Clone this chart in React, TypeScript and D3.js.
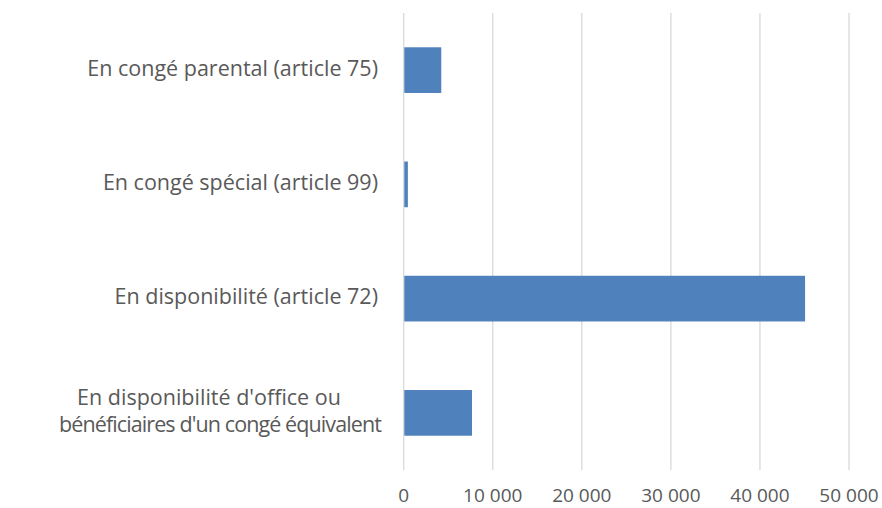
import * as d3 from 'd3';
import { useEffect, useRef } from 'react';

const categories = [
  'En congé parental (article 75)',
  'En congé spécial (article 99)',
  'En disponibilité (article 72)',
  "En disponibilité d'office ou bénéficiaires d'un congé équivalent",
];
const labelLines = [
  ['En congé parental (article 75)'],
  ['En congé spécial (article 99)'],
  ['En disponibilité (article 72)'],
  ["En disponibilité d'office ou", "bénéficiaires d'un congé équivalent"],
];
const values = [4150, 400, 45000, 7600];
const ticks = [0, 10000, 20000, 30000, 40000, 50000];

const width = 882;
const height = 508;
const barColor = '#4f81bd';
const gridColor = '#d9d9d9';
const textColor = '#595959';
const fontFamily = '"Open Sans", sans-serif';

const formatTick = (value: number) => d3.format(',')(value).replace(/,/g, ' ');

const App = () => {
  const svgRef = useRef<SVGSVGElement | null>(null);

  useEffect(() => {
    if (!svgRef.current) return;
    const margin = { top: 13, right: 33, bottom: 38, left: 403.7 };
    const innerHeight = height - margin.top - margin.bottom;

    const svg = d3.select(svgRef.current);
    svg.selectAll('*').remove();

    const chart = svg.append('g').attr('transform', `translate(${margin.left}, ${margin.top})`);

    const x = d3.scaleLinear().domain([0, 50000]).range([0, 445.3]);
    const y = d3
      .scaleBand<string>()
      .domain(categories)
      .range([0, innerHeight])
      .paddingInner(0.6)
      .paddingOuter(0.3);

    chart
      .append('g')
      .selectAll('line')
      .data(ticks)
      .join('line')
      .attr('x1', (tick) => x(tick))
      .attr('x2', (tick) => x(tick))
      .attr('y1', 0)
      .attr('y2', innerHeight)
      .attr('stroke', gridColor)
      .attr('stroke-width', 1.3);

    chart
      .append('g')
      .selectAll('rect')
      .data(values)
      .join('rect')
      .attr('x', x(0) + 0.6)
      .attr('y', (_, index) => y(categories[index]) ?? 0)
      .attr('width', (value) => x(value) - x(0))
      .attr('height', y.bandwidth())
      .attr('fill', barColor);

    chart
      .append('g')
      .selectAll('text')
      .data(ticks)
      .join('text')
      .attr('x', (tick) => x(tick))
      .attr('y', innerHeight + 32)
      .attr('text-anchor', 'middle')
      .attr('fill', textColor)
      .style('font-family', fontFamily)
      .style('font-size', '19px')
      .text((tick) => formatTick(tick));

    const labelRight = -25.7;
    const lineHeight = 26.5;
    // the wrapped label: centres of its two lines and width of the longer one
    const wrapCenters = [-194.7, -183.7];
    const wrapWidth = 322;

    const labels = chart
      .append('g')
      .selectAll('text')
      .data(labelLines)
      .join('text')
      .attr('fill', textColor)
      .style('font-family', fontFamily)
      .style('font-size', '21.5px');

    labels.each(function (lines, index) {
      const center = (y(categories[index]) ?? 0) + y.bandwidth() / 2;
      const text = d3.select(this);
      lines.forEach((line, lineIndex) => {
        text
          .append('tspan')
          .attr('y', center + (lineIndex - (lines.length - 1) / 2) * lineHeight)
          .attr('dominant-baseline', 'middle')
          .text(line);
      });
      if (lines.length > 1) {
        text.attr('text-anchor', 'middle');
        text.selectAll<SVGTSpanElement, unknown>('tspan').each(function (_, i) {
          const span = d3.select(this);
          span.attr('x', wrapCenters[i]);
          const measured = this.getComputedTextLength();
          if (measured > wrapWidth) {
            const chars = (span.text() || '').length;
            span.style('letter-spacing', `${(wrapWidth - measured) / chars}px`);
          }
        });
      } else {
        text.attr('text-anchor', 'end');
        text.selectAll('tspan').attr('x', labelRight);
      }
    });
  }, []);

  return (
    <svg
      ref={svgRef}
      width={width}
      height={height}
      style={{ position: 'absolute', left: 0, top: 0, background: '#ffffff' }}
    />
  );
};

export default App;
